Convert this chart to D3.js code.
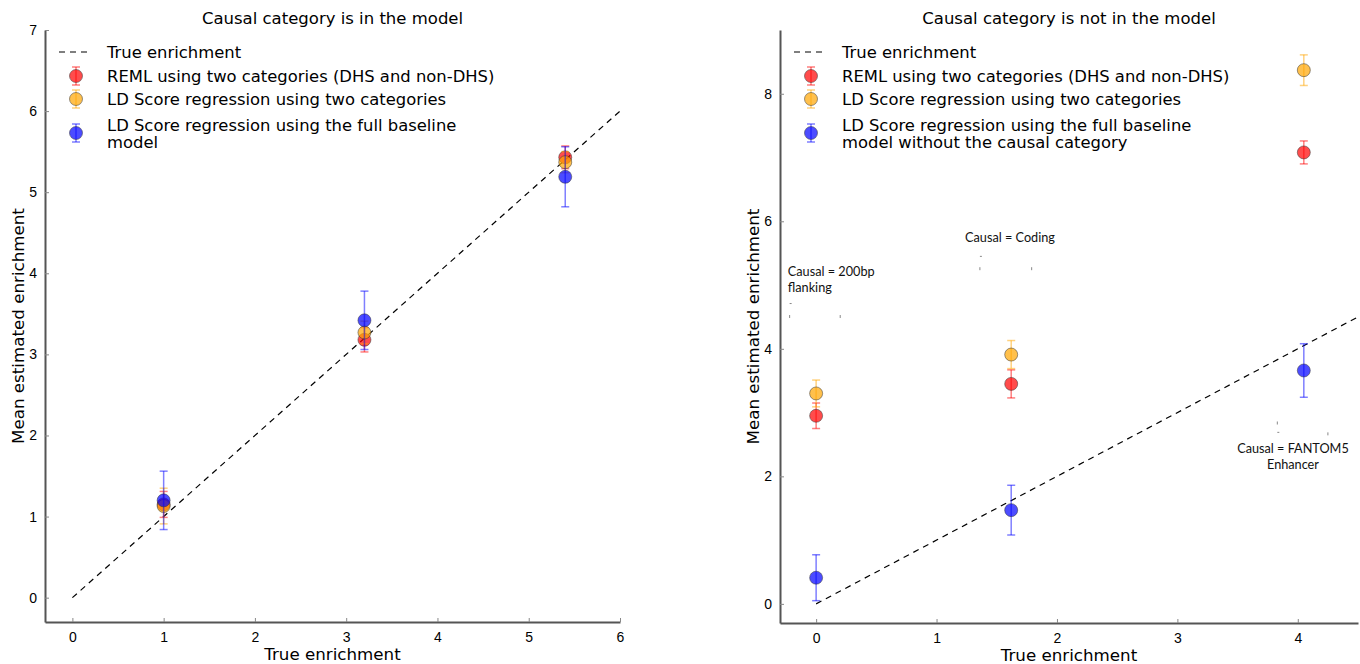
<!DOCTYPE html>
<html>
<head>
<meta charset="utf-8">
<script src="https://cdn.jsdelivr.net/npm/d3@7"></script>
<style>
  body { margin: 0; background: #fff; }
  svg { font-family: "DejaVu Sans", sans-serif; }
  .tick text { font-size: 14px; fill: #000; }
  .note { font-family: Lato, "Open Sans", sans-serif; font-size: 12.7px; fill: #111; }
</style>
</head>
<body>
<div id="chart"></div>
<script>
// data
var leftX = [1, 3.2, 5.4];
var leftReml = [1.15, 3.18, 5.43];
var leftRemlErr = [0.16, 0.15, 0.14];
var leftLdsc2 = [1.13, 3.27, 5.37];
var leftLdsc2Err = [0.22, 0.14, 0.13];
var leftBase = [1.2, 3.42, 5.19];
var leftBaseErr = [0.36, 0.36, 0.37];

var rightX = [0, 1.62, 4.05];
var rightReml = [2.95, 3.45, 7.08];
var rightRemlErr = [0.2, 0.22, 0.18];
var rightLdsc2 = [3.3, 3.91, 8.37];
var rightLdsc2Err = [0.21, 0.22, 0.24];
var rightBase = [0.41, 1.47, 3.66];
var rightBaseErr = [0.36, 0.39, 0.42];

var leftXTicks = [0, 1, 2, 3, 4, 5, 6];
var leftYTicks = [0, 1, 2, 3, 4, 5, 6, 7];
var rightXTicks = [0, 1, 2, 3, 4];
var rightYTicks = [0, 2, 4, 6, 8];

var leftLegend = ["True enrichment", "REML using two categories (DHS and non-DHS)",
  "LD Score regression using two categories", "LD Score regression using the full baseline|model"];
var rightLegend = ["True enrichment", "REML using two categories (DHS and non-DHS)",
  "LD Score regression using two categories", "LD Score regression using the full baseline|model without the causal category"];

// annotations in data units: [x, y, text lines, anchor]
var notes = [
  [1.61, 5.74, ["Causal = Coding"], "middle"],
  [-0.235, 5.21, ["Causal = 200bp", "flanking"], "start"],
  [3.96, 2.44, ["Causal = FANTOM5", "Enhancer"], "middle"]
];
// little leftover marks next to the notes: [x, y, kind]
var specks = [
  [1.36, 5.45, "h"], [1.36, 5.28, "v"], [1.79, 5.28, "v"],
  [-0.22, 4.71, "h"], [-0.22, 4.53, "v"], [0.2, 4.53, "v"],
  [3.83, 2.86, "v"], [3.83, 2.69, "h"], [4.25, 2.69, "v"]
];

var colors = { reml: "#ff0000", ldsc2: "#ffa500", base: "#0000ff" };

var svgWidth = 1360, svgHeight = 664;
var svg = d3.select("#chart").append("svg").attr("width", svgWidth).attr("height", svgHeight);

function drawPanel(opt) {
  var x = d3.scaleLinear().domain(opt.xDomain).range([opt.left, opt.right]);
  var y = d3.scaleLinear().domain(opt.yDomain).range([opt.bottom, opt.top]);
  var g = svg.append("g");

  // axes (left + bottom spines, ticks inside)
  var bottomAxis = d3.axisBottom(x).tickValues(opt.xTicks).tickSizeInner(-4).tickSizeOuter(0).tickPadding(8).tickFormat(d3.format("d"));
  var leftAxis = d3.axisLeft(y).tickValues(opt.yTicks).tickSizeInner(-4).tickSizeOuter(0).tickPadding(8).tickFormat(d3.format("d"));
  var xa = g.append("g").attr("transform", "translate(0," + opt.bottom + ")").call(bottomAxis);
  var ya = g.append("g").attr("transform", "translate(" + opt.left + ",0)").call(leftAxis);
  [xa, ya].forEach(function(a) {
    a.select(".domain").attr("stroke", "#555").attr("stroke-width", 2);
    a.selectAll(".tick line").attr("stroke", "#888");
  });
  xa.selectAll(".tick text").attr("dy", "0.85em");

  // true enrichment line y = x
  var lineEnd = Math.min(opt.xDomain[1], opt.yDomain[1]);
  g.append("line")
    .attr("x1", x(0)).attr("y1", y(0)).attr("x2", x(lineEnd)).attr("y2", y(lineEnd))
    .attr("stroke", "#000").attr("stroke-width", 1.2).attr("stroke-dasharray", "6,5");

  // series
  opt.series.forEach(function(s) {
    var pts = opt.xs.map(function(v, i) { return { x: v, y: s.vals[i], e: s.errs[i] }; });
    var sg = g.append("g");
    var eb = sg.selectAll(".eb").data(pts).enter().append("g")
      .attr("stroke", s.color).attr("stroke-opacity", 0.5).attr("stroke-width", 1.5);
    eb.append("line").attr("x1", d => x(d.x)).attr("x2", d => x(d.x))
      .attr("y1", d => y(d.y - d.e)).attr("y2", d => y(d.y + d.e));
    eb.append("line").attr("x1", d => x(d.x) - 4).attr("x2", d => x(d.x) + 4)
      .attr("y1", d => y(d.y - d.e)).attr("y2", d => y(d.y - d.e));
    eb.append("line").attr("x1", d => x(d.x) - 4).attr("x2", d => x(d.x) + 4)
      .attr("y1", d => y(d.y + d.e)).attr("y2", d => y(d.y + d.e));
    sg.selectAll("circle").data(pts).enter().append("circle")
      .attr("cx", d => x(d.x)).attr("cy", d => y(d.y)).attr("r", 6.5)
      .attr("fill", s.color).attr("fill-opacity", 0.7)
      .attr("stroke", "#333").attr("stroke-opacity", 0.5).attr("stroke-width", 1);
  });

  // title
  g.append("text").attr("x", (opt.left + opt.right) / 2).attr("y", 24)
    .attr("text-anchor", "middle").attr("font-size", 16.5).text(opt.title);

  // axis labels
  g.append("text").attr("x", (opt.left + opt.right) / 2).attr("y", opt.bottom + 38)
    .attr("text-anchor", "middle").attr("font-size", 16.7).text("True enrichment");
  g.append("text")
    .attr("transform", "translate(" + (opt.left - 21) + "," + ((opt.top + opt.bottom) / 2) + ") rotate(-90)")
    .attr("text-anchor", "middle").attr("font-size", 16.7).text("Mean estimated enrichment");

  // legend
  var lx = opt.left + 14, ly = 52;
  var lg = g.append("g");
  lg.append("line").attr("x1", lx).attr("x2", lx + 33).attr("y1", ly).attr("y2", ly)
    .attr("stroke", "#000").attr("stroke-width", 1.2).attr("stroke-dasharray", "6,5");
  var rows = [
    { y: 76, color: colors.reml },
    { y: 99, color: colors.ldsc2 },
    { y: 133, color: colors.base }
  ];
  lg.append("text").attr("x", lx + 48).attr("y", ly).attr("dy", "0.35em").attr("font-size", 16.4).text(opt.legend[0]);
  rows.forEach(function(r, i) {
    var cx = lx + 17;
    lg.append("line").attr("x1", cx).attr("x2", cx).attr("y1", r.y - 9).attr("y2", r.y + 9)
      .attr("stroke", r.color).attr("stroke-opacity", 0.5).attr("stroke-width", 1.5);
    [-9, 9].forEach(function(o) {
      lg.append("line").attr("x1", cx - 4).attr("x2", cx + 4).attr("y1", r.y + o).attr("y2", r.y + o)
        .attr("stroke", r.color).attr("stroke-opacity", 0.5).attr("stroke-width", 1.5);
    });
    lg.append("circle").attr("cx", cx).attr("cy", r.y).attr("r", 6.5)
      .attr("fill", r.color).attr("fill-opacity", 0.7)
      .attr("stroke", "#333").attr("stroke-opacity", 0.5);
    var lines = opt.legend[i + 1].split("|");
    var t = lg.append("text").attr("x", lx + 48).attr("font-size", 16.4);
    lines.forEach(function(l, k) {
      t.append("tspan").attr("x", lx + 48)
        .attr("y", r.y - (lines.length - 1) * 8 + k * 17).attr("dy", "0.35em").text(l);
    });
  });

  return { x: x, y: y, g: g };
}

drawPanel({
  left: 45, right: 620, top: 30, bottom: 622,
  xDomain: [-0.3, 6], yDomain: [-0.3, 7],
  xTicks: leftXTicks, yTicks: leftYTicks,
  xs: leftX,
  series: [
    { vals: leftReml, errs: leftRemlErr, color: colors.reml },
    { vals: leftLdsc2, errs: leftLdsc2Err, color: colors.ldsc2 },
    { vals: leftBase, errs: leftBaseErr, color: colors.base }
  ],
  title: "Causal category is in the model",
  legend: leftLegend
});

var rp = drawPanel({
  left: 780, right: 1358, top: 30, bottom: 623,
  xDomain: [-0.3, 4.5], yDomain: [-0.3, 9],
  xTicks: rightXTicks, yTicks: rightYTicks,
  xs: rightX,
  series: [
    { vals: rightReml, errs: rightRemlErr, color: colors.reml },
    { vals: rightLdsc2, errs: rightLdsc2Err, color: colors.ldsc2 },
    { vals: rightBase, errs: rightBaseErr, color: colors.base }
  ],
  title: "Causal category is not in the model",
  legend: rightLegend
});

// annotations on the right panel
notes.forEach(function(n) {
  var t = rp.g.append("text").attr("class", "note").attr("text-anchor", n[3]);
  n[2].forEach(function(l, k) {
    t.append("tspan").attr("x", rp.x(n[0])).attr("y", rp.y(n[1]) + k * 16).attr("dy", "0.35em").text(l);
  });
});
specks.forEach(function(s) {
  var px = rp.x(s[0]), py = rp.y(s[1]);
  rp.g.append("line")
    .attr("x1", px).attr("x2", s[2] === "h" ? px + 2 : px)
    .attr("y1", py).attr("y2", s[2] === "h" ? py : py + 3)
    .attr("stroke", "#888").attr("stroke-width", 1);
});
</script>
</body>
</html>
